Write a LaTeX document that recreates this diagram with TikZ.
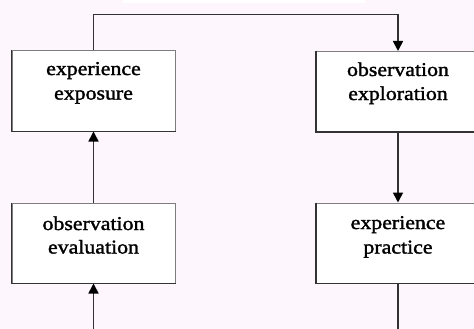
\documentclass[tikz,border=0pt]{standalone}
\usepackage{fontspec}
\newfontfamily\boxfont[FakeStretch=1.12,FakeBold=1.6]{Liberation Serif}
\usetikzlibrary{arrows.meta}
\definecolor{bgpink}{RGB}{253,246,253}
\definecolor{linegray}{RGB}{50,50,50}
\definecolor{rimgray}{RGB}{125,125,125}
\begin{document}
\begin{tikzpicture}[x=1pt,y=-1pt,
  box/.style={draw=rimgray,fill=white,line width=1pt,minimum width=163pt,minimum height=80pt,inner sep=0pt},
  rim/.style={draw=black!80,line width=1.4pt},
  lbl/.style={font=\boxfont\fontsize{19.5}{24}\selectfont,anchor=base,inner sep=0pt,text=black},
  conn/.style={draw=linegray,line width=1.6pt},
  arr/.style={conn,-{Triangle[width=10pt,length=10pt,color=black]}}]
\clip (0,0) rectangle (474,329);
\fill[bgpink] (0,0) rectangle (474,329);
\fill[white] (123,0) rectangle (365,3);
% boxes
\node[box] (ee) at (93.5,91) {};
\node[box] (oe) at (398,91.5) {};
\node[box] (ev) at (93.5,243) {};
\node[box] (ep) at (398,243) {};
\draw[rim] (ee.north west) |- (ee.south east);
\draw[rim] (oe.north west) |- (oe.south east);
\draw[rim] (ev.north west) |- (ev.south east);
\draw[rim] (ep.north west) |- (ep.south east);
% labels
\node[lbl] (ee1) at (93.5,75) {experience};
\node[lbl] (ee2) at (93.5,99.5) {exposure};
\node[lbl] (oe1) at (398,76) {observation};
\node[lbl] (oe2) at (398,100) {exploration};
\node[lbl] (ev1) at (93.5,230) {observation};
\node[lbl] (ev2) at (93.5,253.5) {evaluation};
\node[lbl] (ep1) at (398,229) {experience};
\node[lbl] (ep2) at (398,253.5) {practice};
% connectors
\coordinate (top1) at (93.5,14.5);
\coordinate (top2) at (398,14.5);
\coordinate (bot1) at (93.5,335);
\coordinate (bot2) at (398,335);
\draw[arr] (ee.north) -- (top1) -- (top2) -- (oe.north);
\draw[arr] (oe.south) -- (ep.north);
\draw[conn] (ep.south) -- (bot2);
\draw[arr] (bot1) -- (ev.south);
\draw[arr] (ev.north) -- (ee.south);
\end{tikzpicture}
\end{document}
